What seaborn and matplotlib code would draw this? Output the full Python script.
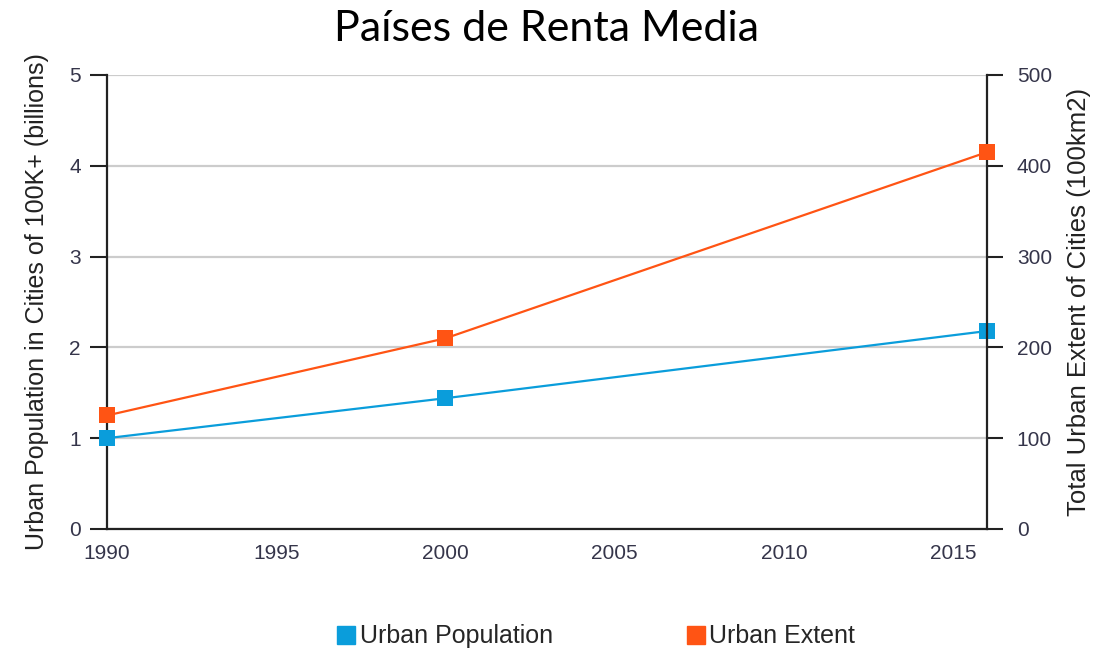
import matplotlib
matplotlib.use("Agg")
import matplotlib.pyplot as plt
import seaborn as sns
import pandas as pd
from matplotlib.lines import Line2D

# values
years = [1990, 2000, 2016]
urban_population = [1.0, 1.44, 2.18]      # billions
urban_extent = [125, 210, 415]            # 100 km2
x_ticks = [1990, 1995, 2000, 2005, 2010, 2015]
left_ticks = [0, 1, 2, 3, 4, 5]
right_ticks = [0, 100, 200, 300, 400, 500]

BLUE = "#0a9ddb"
ORANGE = "#ff5414"
TXT = "#35354a"

sns.set_style("white")
plt.rcParams["font.family"] = ["Liberation Sans", "DejaVu Sans"]

df = pd.DataFrame({"year": years, "pop": urban_population, "extent": urban_extent})

fig = plt.figure(figsize=(11.09, 6.52), dpi=100)
ax = fig.add_axes([0.0965, 0.1887, 0.7935, 0.6963])
ax2 = ax.twinx()

sns.lineplot(data=df, x="year", y="pop", ax=ax, color=BLUE, lw=1.6,
             marker="s", markersize=11.5, markeredgewidth=0, clip_on=False, zorder=5)
sns.lineplot(data=df, x="year", y="extent", ax=ax2, color=ORANGE, lw=1.6,
             marker="s", markersize=11.5, markeredgewidth=0, clip_on=False, zorder=5)

ax.set_xlim(1990, 2016)
ax.set_ylim(0, 5)
ax2.set_ylim(0, 500)
ax.set_xticks(x_ticks)
ax.set_yticks(left_ticks)
ax2.set_yticks(right_ticks)

ax.yaxis.grid(True, color="#cccccc", lw=1.6)
ax.xaxis.grid(False)
ax2.grid(False)

for a in (ax, ax2):
    for s in a.spines.values():
        s.set_visible(False)
ax.spines["left"].set_visible(True)
ax.spines["bottom"].set_visible(True)
ax2.spines["right"].set_visible(True)
for s in (ax.spines["left"], ax.spines["bottom"], ax2.spines["right"]):
    s.set_color("#222222")
    s.set_linewidth(1.6)

ax.tick_params(axis="y", direction="out", length=12, width=1.5, color="#222222",
               labelsize=15, labelcolor=TXT, pad=7, left=True)
ax2.tick_params(axis="y", direction="out", length=11.5, width=1.5, color="#222222",
                labelsize=15, labelcolor=TXT, pad=10, right=True)
ax.tick_params(axis="x", length=0, labelsize=15, labelcolor=TXT, pad=11)

ax.set_xlabel("")
ax.set_ylabel("Urban Population in Cities of 100K+ (billions)", fontsize=18,
              color="#222222", labelpad=14)
ax2.set_ylabel("Total Urban Extent of Cities (100km2)", fontsize=18.5,
               color="#222222", labelpad=11)

fig.suptitle("Países de Renta Media", fontsize=31, family=["Lato", "DejaVu Sans"],
             x=0.493, y=0.985, color="black")

handles = [Line2D([], [], marker="s", ls="none", color=BLUE, markersize=13),
           Line2D([], [], marker="s", ls="none", color=ORANGE, markersize=13)]
fig.legend(handles, ["Urban Population", "Urban Extent"], loc="center",
           bbox_to_anchor=(0.536, 0.024), ncol=2, frameon=False, fontsize=18,
           handletextpad=0.05, columnspacing=5.2, handlelength=1.0)

fig.savefig("out.png", dpi=100)
